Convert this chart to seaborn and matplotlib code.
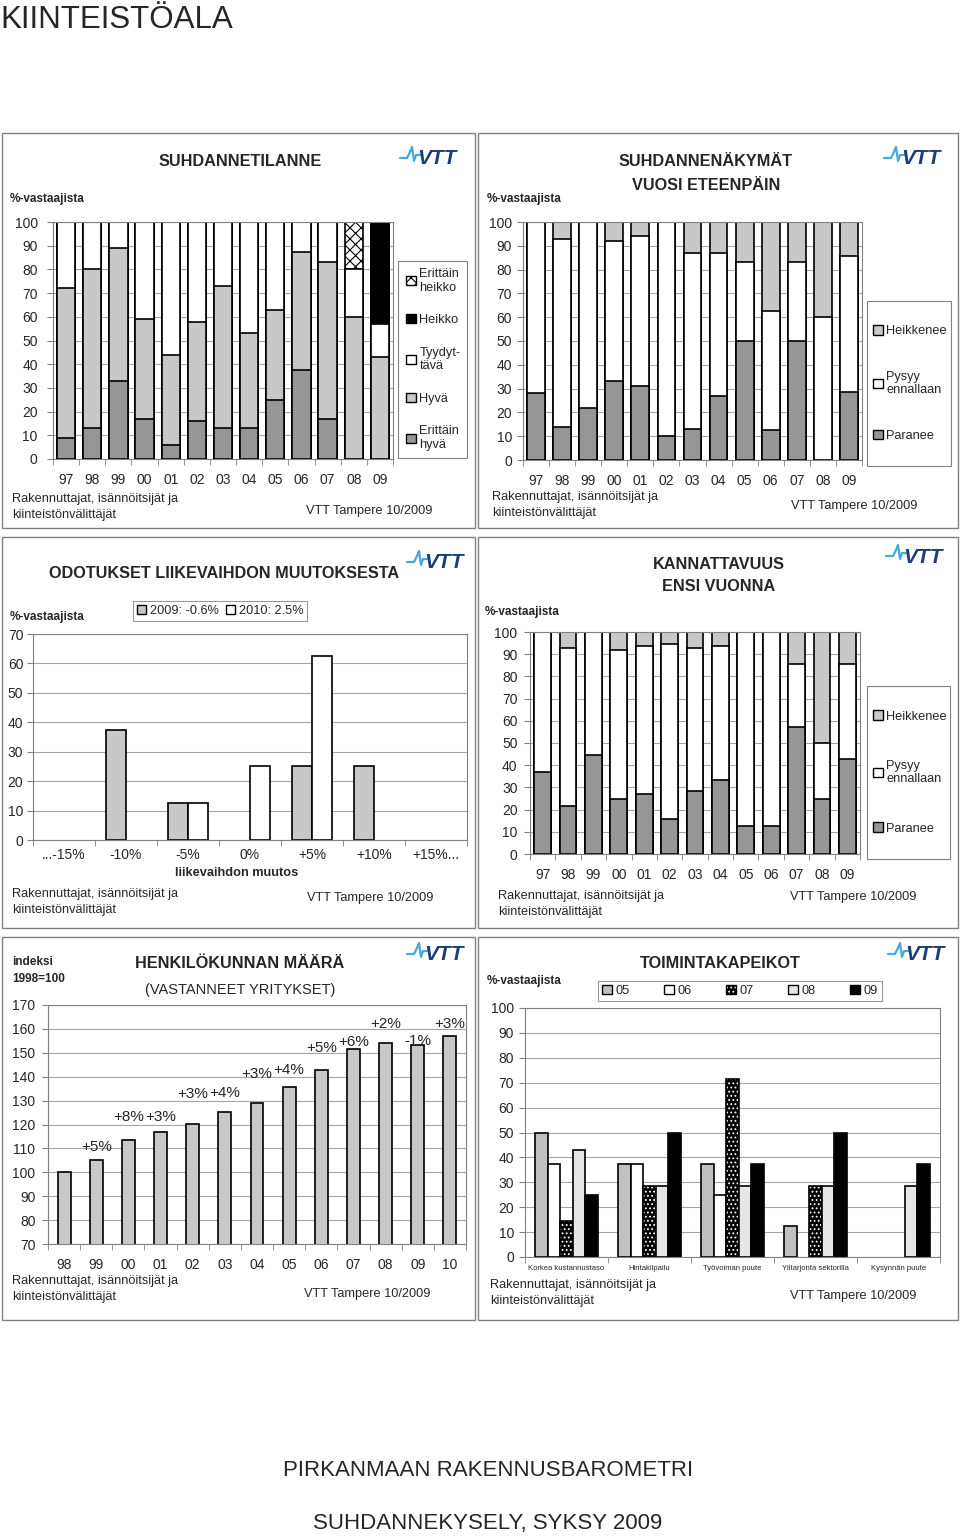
import numpy as np
import pandas as pd
import seaborn as sns
import matplotlib.pyplot as plt
from matplotlib.patches import Patch, Rectangle
from matplotlib.lines import Line2D

# ---- data ----
years_a = ['97', '98', '99', '00', '01', '02', '03', '04', '05', '06', '07', '08', '09']

# SUHDANNETILANNE (%-vastaajista)
tila_erittain_hyva = [9, 13, 33, 17, 6, 16, 13, 13, 25, 37.5, 16.7, 0, 0]
tila_hyva = [63, 67, 56, 42, 38, 42, 60, 40, 38, 50, 66.6, 60, 42.9]
tila_tyydyttava = [28, 20, 11, 41, 56, 42, 27, 47, 37, 12.5, 16.7, 20, 14.2]
tila_heikko = [0, 0, 0, 0, 0, 0, 0, 0, 0, 0, 0, 0, 42.9]
tila_erittain_heikko = [0, 0, 0, 0, 0, 0, 0, 0, 0, 0, 0, 20, 0]

# SUHDANNENÄKYMÄT VUOSI ETEENPÄIN
nak_paranee = [28, 14, 22, 33, 31, 10, 13, 27, 50, 12.5, 50, 0, 28.6]
nak_pysyy = [72, 79, 78, 59, 63, 90, 74, 60, 33, 50, 33, 60, 57.1]
nak_heikkenee = [0, 7, 0, 8, 6, 0, 13, 13, 17, 37.5, 17, 40, 14.3]

# KANNATTAVUUS ENSI VUONNA
kan_paranee = [37, 21.4, 44.4, 25, 27, 15.8, 28.6, 33.3, 12.5, 12.5, 57.1, 25, 42.9]
kan_pysyy = [63, 71.4, 55.6, 67, 66.5, 78.9, 64.3, 60.4, 87.5, 87.5, 28.6, 25, 42.9]
kan_heikkenee = [0, 7.2, 0, 8, 6.5, 5.3, 7.1, 6.3, 0, 0, 14.3, 50, 14.2]

# ODOTUKSET LIIKEVAIHDON MUUTOKSESTA
muutos_luokat = ['...-15%', '-10%', '-5%', '0%', '+5%', '+10%', '+15%...']
odotus_2009 = [0, 37.5, 12.5, 0, 25, 25, 0]
odotus_2010 = [0, 0, 12.5, 25, 62.5, 0, 0]

# HENKILÖKUNNAN MÄÄRÄ (indeksi 1998=100)
years_b = ['98', '99', '00', '01', '02', '03', '04', '05', '06', '07', '08', '09', '10']
henkilokunta = [100, 105, 113.4, 116.7, 120.3, 125.1, 128.8, 135.6, 142.7, 151.4, 154.3, 153.2, 157.2]
henk_muutos = ['', '+5%', '+8%', '+3%', '+3%', '+4%', '+3%', '+4%', '+5%', '+6%', '+2%', '-1%', '+3%']

# TOIMINTAKAPEIKOT
kapeikot = ['Korkea kustannustaso', 'Hintakilpailu', 'Työvoiman puute',
            'Ylitarjonta sektorilla', 'Kysynnän puute']
kap_vuodet = ['05', '06', '07', '08', '09']
kap_05 = [50, 37.5, 37.5, 12.5, 0]
kap_06 = [37.5, 37.5, 25, 0, 0]
kap_07 = [14.3, 28.6, 71.4, 28.6, 0]
kap_08 = [42.9, 28.6, 28.6, 28.6, 28.6]
kap_09 = [25, 50, 37.5, 50, 37.5]

# ---- style ----
sns.set_style('white')
plt.rcParams['font.family'] = ['Liberation Sans', 'DejaVu Sans']
plt.rcParams['hatch.linewidth'] = 0.8

W, H = 960, 1537
fig = plt.figure(figsize=(W / 100, H / 100), dpi=100)

DARK = '#969696'
LIGHT = '#c8c8c8'
GRID = '#a6a6a6'
FRAME = '#808080'
SOURCE = 'Rakennuttajat, isännöitsijät ja\nkiinteistönvälittäjät'
TITLE = 11.7


def fx(x):
    return x / W


def fy(y):
    return 1 - y / H


def px_axes(x0, y0, x1, y1):
    return fig.add_axes([fx(x0), fy(y1), (x1 - x0) / W, (y1 - y0) / H])


def txt(x, y, s, size=9.2, ha='left', bold=False, **kw):
    fig.text(fx(x), fy(y), s, fontsize=size, ha=ha, va='center',
             fontweight='bold' if bold else 'normal', **kw)


def panel_box(x0, y0, x1, y1, lw=1.0):
    fig.patches.append(Rectangle((fx(x0), fy(y1)), (x1 - x0) / W, (y1 - y0) / H,
                                 transform=fig.transFigure, fill=False,
                                 edgecolor=FRAME, linewidth=lw))


def vtt_logo(x, y):
    wave = [(0, 11), (7, 11), (10, 5), (12, 0), (14, 14), (16, 8), (20, 8)]
    fig.lines.append(Line2D([fx(x + a) for a, b in wave], [fy(y + b) for a, b in wave],
                            transform=fig.transFigure, color='#45a8df', linewidth=1.6))
    fig.text(fx(x + 17), fy(y + 12), 'VTT', fontsize=15, fontweight='bold',
             fontstyle='italic', color='#1d3d78', va='center', ha='left')


def dotted(bar):
    # black fill with white dots
    bar.set_facecolor('black')
    bar.set_hatch('....')
    if hasattr(bar, 'set_hatchcolor'):
        bar.set_hatchcolor('white')
    else:
        bar._hatch_color = (1, 1, 1, 1)


def hide_zero(ax):
    for p in ax.patches:
        if abs(p.get_height()) < 1e-9:
            p.set_visible(False)


def style_axes(ax, ymin, ymax, ystep, labelsize=10, ypad=4, xpad=10):
    ax.set_ylim(ymin, ymax)
    ax.set_yticks(np.arange(ymin, ymax + 0.1, ystep))
    ax.yaxis.grid(True, color=GRID, linewidth=0.8)
    ax.set_axisbelow(True)
    for s in ax.spines.values():
        s.set_color(FRAME)
        s.set_linewidth(0.8)
    n = len(ax.get_xticks())
    ax.set_xlim(-0.5, n - 0.5)
    ax.set_xticks(np.arange(-0.5, n), minor=True)
    ax.tick_params(axis='x', which='major', length=0, pad=xpad, labelsize=labelsize)
    ax.tick_params(axis='x', which='minor', length=4, color=FRAME, bottom=True)
    ax.tick_params(axis='y', length=4, color=FRAME, labelsize=10, pad=ypad, left=True)
    ax.set_xlabel('')
    ax.set_ylabel('')
    hide_zero(ax)


def stacked(ax, cats, layers, width):
    # layers from bottom to top; draw cumulative totals tallest first
    cum = np.cumsum([l[0] for l in layers], axis=0)
    for i in range(len(layers) - 1, -1, -1):
        vals, color, hatch = layers[i]
        sns.barplot(x=cats, y=cum[i], order=cats, color=color, saturation=1,
                    width=width, edgecolor='black', linewidth=1.2, hatch=hatch,
                    errorbar=None, ax=ax)


def box_legend(handles, labels, anchor, loc='upper left', textpad=0.3, frame=True, **kw):
    leg = fig.legend(handles, labels, loc=loc, bbox_to_anchor=(fx(anchor[0]), fy(anchor[1])),
                     frameon=frame, fancybox=False, edgecolor=FRAME, fontsize=9.2,
                     handlelength=0.75, handleheight=0.75, handletextpad=textpad,
                     borderaxespad=0, **kw)
    leg.get_frame().set_linewidth(0.8)
    return leg


def side_legend(handles, labels, box, spacing, inset=7):
    # Excel-style legend: fixed frame, entries spread inside it
    x0, y0, x1, y1 = box
    panel_box(x0, y0, x1, y1, lw=0.8)
    box_legend(handles, labels, (x0 + inset, (y0 + y1) / 2), loc='center left', frame=False,
               labelspacing=spacing, borderpad=0, textpad=0.3)


def sq(color, hatch=None):
    return Patch(facecolor=color, edgecolor='black', hatch=hatch, linewidth=1.0)


# ---- page titles ----
txt(0, 20, 'KIINTEISTÖALA', size=22.5)
txt(488, 1470, 'PIRKANMAAN RAKENNUSBAROMETRI', size=16, ha='center')
txt(488, 1523, 'SUHDANNEKYSELY, SYKSY 2009', size=16, ha='center')

# ---- panel 1: SUHDANNETILANNE ----
panel_box(2, 133, 475, 528)
ax1 = px_axes(53, 222, 393, 459)
stacked(ax1, years_a, [(tila_erittain_hyva, DARK, None), (tila_hyva, LIGHT, None),
                       (tila_tyydyttava, 'white', None), (tila_heikko, 'black', None),
                       (tila_erittain_heikko, 'white', 'xxx')], 0.7)
style_axes(ax1, 0, 100, 10, ypad=7)
txt(240, 161, 'SUHDANNETILANNE', size=TITLE, ha='center', bold=True)
txt(10, 199, '%-vastaajista', size=8.5, bold=True)
txt(12, 507, SOURCE, linespacing=1.45)
txt(306, 511, 'VTT Tampere 10/2009')
vtt_logo(400, 147)
side_legend([sq('white', 'xxx'), sq('black'), sq('white'), sq(LIGHT), sq(DARK)],
            ['Erittäin\nheikko', 'Heikko', 'Tyydyt-\ntävä', 'Hyvä', 'Erittäin\nhyvä'],
            (398, 261, 467, 458), 1.6, inset=8)

# ---- panel 2: SUHDANNENÄKYMÄT ----
panel_box(478, 133, 958, 528)
ax2 = px_axes(523, 222, 862, 460)
stacked(ax2, years_a, [(nak_paranee, DARK, None), (nak_pysyy, 'white', None),
                       (nak_heikkenee, LIGHT, None)], 0.68)
style_axes(ax2, 0, 100, 10)
txt(706, 161, 'SUHDANNENÄKYMÄT', size=TITLE, ha='center', bold=True)
txt(706, 185, 'VUOSI ETEENPÄIN', size=TITLE, ha='center', bold=True)
txt(487, 199, '%-vastaajista', size=8.5, bold=True)
txt(492, 505, SOURCE, linespacing=1.45)
txt(791, 506, 'VTT Tampere 10/2009')
vtt_logo(884, 147)
side_legend([sq(LIGHT), sq('white'), sq(DARK)], ['Heikkenee', 'Pysyy\nennallaan', 'Paranee'],
            (867, 301, 951, 466), 2.6, inset=6)

# ---- panel 3: ODOTUKSET LIIKEVAIHDON MUUTOKSESTA ----
panel_box(2, 537, 475, 928)
ax3 = px_axes(33, 634, 467, 840)
df3 = pd.DataFrame({'luokka': muutos_luokat * 2,
                    'sarja': ['2009: -0.6%'] * len(muutos_luokat) + ['2010: 2.5%'] * len(muutos_luokat),
                    'osuus': odotus_2009 + odotus_2010})
sns.barplot(data=df3, x='luokka', y='osuus', hue='sarja', order=muutos_luokat,
            palette={'2009: -0.6%': LIGHT, '2010: 2.5%': 'white'}, saturation=1,
            width=0.65, gap=0, edgecolor='black', linewidth=1.2, errorbar=None,
            legend=False, ax=ax3)
style_axes(ax3, 0, 70, 10, ypad=3, xpad=6)
txt(224, 574, 'ODOTUKSET LIIKEVAIHDON MUUTOKSESTA', size=TITLE, ha='center', bold=True)
txt(10, 617, '%-vastaajista', size=8.5, bold=True)
txt(237, 873, 'liikevaihdon muutos', size=9.2, ha='center', bold=True)
txt(12, 902, SOURCE, linespacing=1.45)
txt(307, 898, 'VTT Tampere 10/2009')
vtt_logo(407, 551)
box_legend([sq(LIGHT), sq('white')], ['2009: -0.6%', '2010: 2.5%'], (133, 621),
           loc='lower left', ncol=2, columnspacing=0.5, borderpad=0.3)

# ---- panel 4: KANNATTAVUUS ENSI VUONNA ----
panel_box(478, 537, 958, 928)
ax4 = px_axes(530, 632, 860, 854)
stacked(ax4, years_a, [(kan_paranee, DARK, None), (kan_pysyy, 'white', None),
                       (kan_heikkenee, LIGHT, None)], 0.66)
style_axes(ax4, 0, 100, 10, ypad=5)
txt(719, 565, 'KANNATTAVUUS', size=TITLE, ha='center', bold=True)
txt(719, 586, 'ENSI VUONNA', size=TITLE, ha='center', bold=True)
txt(485, 612, '%-vastaajista', size=8.5, bold=True)
txt(498, 904, SOURCE, linespacing=1.45)
txt(790, 897, 'VTT Tampere 10/2009')
vtt_logo(886, 545)
side_legend([sq(LIGHT), sq('white'), sq(DARK)], ['Heikkenee', 'Pysyy\nennallaan', 'Paranee'],
            (867, 686, 950, 859), 2.9, inset=6)

# ---- panel 5: HENKILÖKUNNAN MÄÄRÄ ----
panel_box(2, 937, 475, 1320)
ax5 = px_axes(48, 1005, 466, 1244)
sns.barplot(x=years_b, y=henkilokunta, order=years_b, color=LIGHT, saturation=1,
            width=0.4, edgecolor='black', linewidth=1.2, errorbar=None, ax=ax5)
style_axes(ax5, 70, 170, 10, ypad=5)
# data label heights as placed in the original
label_y = [0, 110.7, 123.3, 123.3, 132.7, 133, 141.3, 142.7, 152.2, 154.6, 162.2, 155, 162.2]
for i, (lab, ly) in enumerate(zip(henk_muutos, label_y)):
    if lab:
        ax5.text(i, ly, lab, ha='center', va='center', fontsize=11)
txt(12, 962, 'indeksi', size=8.5, bold=True)
txt(12, 979, '1998=100', size=8.5, bold=True)
txt(240, 964, 'HENKILÖKUNNAN MÄÄRÄ', size=TITLE, ha='center', bold=True)
txt(240, 990, '(VASTANNEET YRITYKSET)', size=10.5, ha='center')
txt(12, 1289, SOURCE, linespacing=1.45)
txt(304, 1294, 'VTT Tampere 10/2009')
vtt_logo(407, 943)

# ---- panel 6: TOIMINTAKAPEIKOT ----
panel_box(478, 937, 958, 1320)
ax6 = px_axes(525, 1008, 940, 1257)
df6 = pd.DataFrame({'kapeikko': kapeikot * 5,
                    'vuosi': [v for v in kap_vuodet for _ in kapeikot],
                    'osuus': kap_05 + kap_06 + kap_07 + kap_08 + kap_09})
kap_colors = {'05': '#c0c0c0', '06': 'white', '07': 'black', '08': '#e6e6e6', '09': 'black'}
sns.barplot(data=df6, x='kapeikko', y='osuus', hue='vuosi', order=kapeikot,
            hue_order=kap_vuodet, palette=kap_colors, saturation=1, width=0.75, gap=0,
            edgecolor='black', linewidth=1.2, errorbar=None, legend=False, ax=ax6)
for bar in ax6.containers[2]:
    dotted(bar)
style_axes(ax6, 0, 100, 10, labelsize=5.5, xpad=6)
txt(720, 964, 'TOIMINTAKAPEIKOT', size=TITLE, ha='center', bold=True)
txt(487, 981, '%-vastaajista', size=8.5, bold=True)
txt(490, 1293, SOURCE, linespacing=1.45)
txt(790, 1296, 'VTT Tampere 10/2009')
vtt_logo(888, 943)
kap_handles = [sq(kap_colors[v]) for v in kap_vuodet]
dotted(kap_handles[2])
box_legend(kap_handles, kap_vuodet, (740, 991), loc='center', ncol=5,
           columnspacing=2.7, borderpad=0.3)

fig.savefig('out.png', dpi=100)
